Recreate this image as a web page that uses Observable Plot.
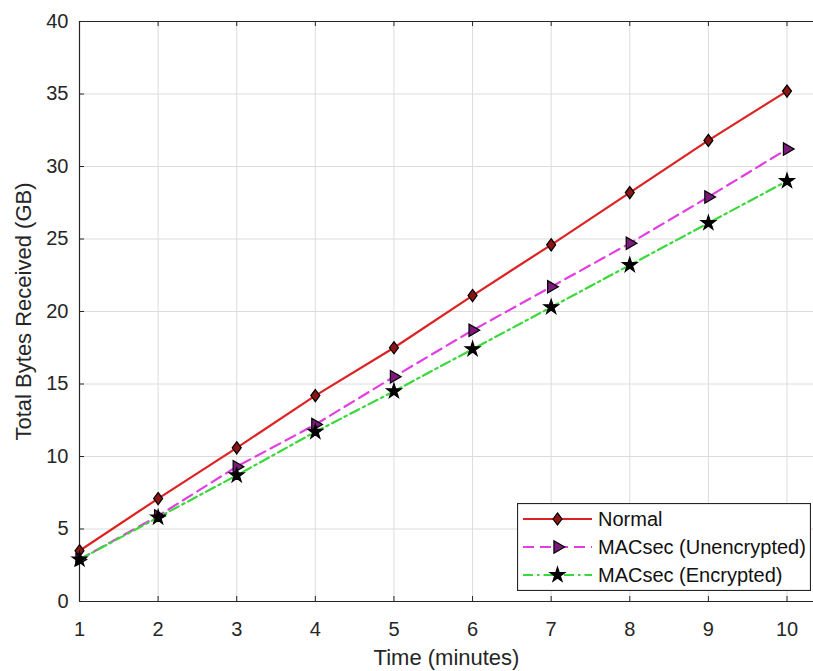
<!DOCTYPE html>
<html><head><meta charset="utf-8">
<script src="https://cdn.jsdelivr.net/npm/d3@7"></script>
<script src="https://cdn.jsdelivr.net/npm/@observablehq/plot@0.6"></script>
<style>
body{margin:0;background:#fff;}
#wrap{position:relative;width:813px;height:671px;font-family:"Liberation Sans",Arial,sans-serif;}
#legend{position:absolute;left:517px;top:503px;}
</style></head><body><div id="wrap"></div>
<script>
// ---- data ----
const time = [1, 2, 3, 4, 5, 6, 7, 8, 9, 10];
const normal = [3.5, 7.1, 10.6, 14.2, 17.5, 21.1, 24.6, 28.2, 31.8, 35.2];
const unencrypted = [2.9, 5.9, 9.3, 12.2, 15.5, 18.7, 21.7, 24.7, 27.9, 31.2];
const encrypted = [2.9, 5.8, 8.7, 11.7, 14.5, 17.4, 20.3, 23.2, 26.1, 29.0];
const seriesNames = ["Normal", "MACsec (Unencrypted)", "MACsec (Encrypted)"];
const xTicks = [1, 2, 3, 4, 5, 6, 7, 8, 9, 10];
const yTicks = [0, 5, 10, 15, 20, 25, 30, 35, 40];
const xLabel = "Time (minutes)";
const yLabel = "Total Bytes Received (GB)";

// ---- styles ----
const diamondSym = {draw(ctx, size) {
  const r = Math.sqrt(size / Math.PI), w = r * 1.0, h = r * 1.35;
  ctx.moveTo(0, -h); ctx.lineTo(w, 0); ctx.lineTo(0, h); ctx.lineTo(-w, 0); ctx.closePath();
}};
const styles = [
  {stroke: "#dd2222", dash: null, symbol: diamondSym, d3sym: diamondSym, fill: "#8a1515", r: 4.5, rotate: 0},
  {stroke: "#e23ee2", dash: "11,6", symbol: "triangle", d3sym: d3.symbolTriangle, fill: "#7a1a7a", r: 4.6, rotate: 90},
  {stroke: "#3ad83a", dash: "10,4,2.5,4", symbol: "star", d3sym: d3.symbolStar, fill: "#000000", r: 4.6, rotate: 0}
];
const values = [normal, unencrypted, encrypted];
const rows = seriesNames.map((name, i) => time.map((t, j) => ({series: name, t, v: values[i][j]})));

const W = 813, H = 671, mL = 79, mR = 0, mT = 21, mB = 70;
const plotW = W - mL - mR, plotH = H - mT - mB;
const axisColor = "#262626";

const seriesMarks = rows.flatMap((data, i) => {
  const s = styles[i];
  return [
    Plot.line(data, {x: "t", y: "v", stroke: s.stroke, strokeWidth: 2.2, strokeDasharray: s.dash}),
    Plot.dot(data, {x: "t", y: "v", symbol: s.symbol, r: s.r, fill: s.fill, stroke: "#000", strokeWidth: 1.2, rotate: s.rotate})
  ];
});

const chart = Plot.plot({
  width: W, height: H,
  marginLeft: mL, marginRight: mR, marginTop: mT, marginBottom: mB,
  x: {domain: [1, 10.337]},
  y: {domain: [0, 40]},
  style: {fontFamily: "'Liberation Sans', Arial, sans-serif", fontSize: "20px", color: axisColor, background: "white", overflow: "visible"},
  marks: [
    Plot.gridX({ticks: xTicks, stroke: "#dcdcdc", strokeOpacity: 1}),
    Plot.gridY({ticks: yTicks, stroke: "#dcdcdc", strokeOpacity: 1}),
    Plot.ruleY([0, 40], {stroke: axisColor, strokeWidth: 1.2}),
    Plot.ruleX([1], {stroke: axisColor, strokeWidth: 1.2}),
    Plot.ruleX(xTicks, {stroke: axisColor, insetTop: plotH - 5}),
    Plot.ruleX(xTicks, {stroke: axisColor, insetBottom: plotH - 5}),
    Plot.ruleY(yTicks, {stroke: axisColor, insetRight: plotW - 5}),
    Plot.axisX({ticks: xTicks, tickSize: 0, tickPadding: 20, label: null, fontSize: 20}),
    Plot.axisY({ticks: yTicks, tickSize: 0, tickPadding: 11, label: null, fontSize: 20}),
    Plot.axisX({ticks: [], tickSize: 0, label: xLabel, labelAnchor: "center", labelArrow: "none", labelOffset: 63, fontSize: 22}),
    Plot.axisY({ticks: [], tickSize: 0, label: yLabel, labelAnchor: "center", labelArrow: "none", labelOffset: 64, fontSize: 22}),
    ...seriesMarks
  ]
});
const wrap = document.getElementById("wrap");
wrap.appendChild(chart);

// ---- legend ----
const LW = 293, LH = 87, rowY = [16, 44, 72];
const leg = d3.create("svg").attr("id", "legend").attr("width", LW + 1).attr("height", LH + 1);
leg.append("rect").attr("x", 0.5).attr("y", 0.5).attr("width", LW).attr("height", LH)
  .attr("fill", "#fff").attr("stroke", axisColor).attr("stroke-width", 1.2);
seriesNames.forEach((name, i) => {
  const s = styles[i], y = rowY[i];
  leg.append("line").attr("x1", 6).attr("x2", 75).attr("y1", y).attr("y2", y)
    .attr("stroke", s.stroke).attr("stroke-width", 2.2).attr("stroke-dasharray", s.dash);
  leg.append("path").attr("d", d3.symbol(s.d3sym, Math.PI * s.r * s.r)())
    .attr("transform", `translate(40.5,${y}) rotate(${s.rotate})`)
    .attr("fill", s.fill).attr("stroke", "#000").attr("stroke-width", 1.2);
  leg.append("text").attr("x", 81).attr("y", y).attr("dy", "0.35em")
    .attr("font-family", "'Liberation Sans', Arial, sans-serif").attr("font-size", 20)
    .attr("fill", "#111").text(name);
});
wrap.appendChild(leg.node());
</script></body></html>
